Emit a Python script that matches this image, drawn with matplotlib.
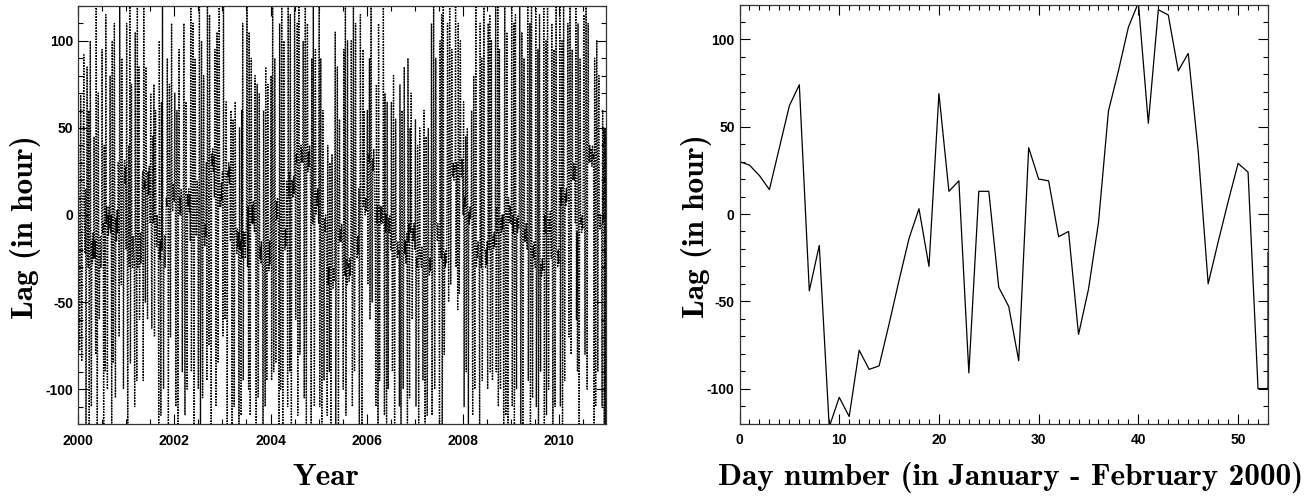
import os
import numpy as np
import matplotlib
matplotlib.use('Agg')
import matplotlib.pyplot as plt
from matplotlib import font_manager as fm
from matplotlib.ticker import MultipleLocator

# daily lag over Jan-Feb 2000 (right panel)
day_number = [0, 1, 2, 3, 4, 5, 6, 7, 8, 9, 10, 11, 12, 13, 14, 15, 16, 17, 18, 19,
              20, 21, 22, 23, 24, 25, 26, 27, 28, 29, 30, 31, 32, 33, 34, 35, 36, 37, 38, 39,
              40, 41, 42, 43, 44, 45, 46, 47, 48, 49, 50, 51, 52, 53, 53]
lag_jan_feb = [30, 28, 22, 14, 38, 62, 74, -44, -18, -122, -105, -116, -78, -89, -87, -63, -38, -14, 3, -30,
               69, 13, 19, -91, 13, 13, -42, -53, -84, 38, 20, 19, -13, -10, -69, -43, -5, 59, 82, 107,
               121, 52, 117, 114, 82, 92, 36, -40, -16, 7, 29, 24, -100, -100, -22]

# lag 2000-2010 (left panel), one value every ~4 days, one row per year
lag_2000 = [30, 38, -18, -78, -38, 69, 13, -84, -13, -5, 52, 92, 7, -22, 15,
            -120, -15, 85, -22, -30, 60, -130, -20, 100, -25, -110, -15, -28, -10, -25,
            45, -25, -15, -80, 120, -20, -125, -10, 70, -30, -60, -22, -12, -30, -18,
            95, -10, -5, -130, 40, 0, -90, 115, -5, 5, -100, 0, -12, 5, -8,
            80, -10, 0, -120, 100, -5, -85, 5, 110, -15, -105, -2, -15, 3, -10,
            30, 25, -70, 120, 35, 20, -40, 90, 30, 15, -100, 20, 32, 18, 28]
lag_2001 = [-20, 110, -25, -120, -15, 40, -30, 125, -85, -20, 75, -18, -30, -12, -25,
            -25, -110, 105, -15, -20, -95, 120, -30, -10, 85, -60, -22, -10, -28, -15,
            20, 25, -95, 120, 15, 20, -50, 85, 25, 10, -60, 25, 12, 28, 18,
            -5, 70, -10, -65, -15, 45, -5, 75, -70, -10, 60, -5, -18, 0, -12,
            -20, -120, 100, -25, -15, -115, 65, -20, 120, -30, -100, -25, -12, -30, -18,
            10, 5, 90, 15, -125, 10, 75, 5, -70, 15, 110, 12, 2, 18, 8]
lag_2002 = [8, 70, 5, -110, 10, 60, 5, -120, 10, 95, 0, 10, 0, 15, 5,
            -90, 8, 15, 110, 5, -115, 10, 65, 0, -100, 12, 5, 15, 2, 12,
            -15, 120, -90, -20, -10, 110, 20, -130, 25, 90, 15, -12, 5, 20, 10,
            -100, -10, 120, -5, -125, -15, 100, -5, -105, -10, 80, -8, -18, -5, -12,
            30, -95, 125, 35, 25, -75, 115, 30, 20, -120, 35, 28, 38, 25, 34,
            10, 95, 15, -110, 5, 105, 20, -85, 10, 120, 5, 12, 5, 18, 8]
lag_2003 = [25, -70, 120, 20, 15, -60, 30, 65, 20, -120, 25, 22, 30, 18, 28,
            -15, 60, -10, -125, -20, 55, -15, -110, -25, 65, -5, -12, -22, -8, -18,
            -10, -120, 50, -20, -15, -115, 60, -25, 110, -95, -10, -18, -10, -25, -12,
            0, 125, -30, 5, -100, 105, 0, -115, 10, 90, -5, 5, -5, 8, -2,
            -10, 80, -20, -120, -25, 75, -30, -105, -35, 70, -25, -18, -28, -15, -25,
            -30, -125, 60, -15, -20, -110, 85, -10, -95, -25, 75, -22, -32, -15, -28]
lag_2004 = [5, 80, -95, 10, 120, 0, -90, 5, 90, 10, -85, 8, -2, 10, 2,
            -15, -120, 110, -20, -100, -10, 120, -15, -125, -20, 100, -12, -20, -8, -18,
            20, 15, -110, 120, 10, 25, -90, 115, 15, -120, 20, 18, 10, 22, 12,
            125, 40, -60, 35, 30, 110, -115, 40, 120, 35, -80, 32, 40, 30, 38,
            30, 100, 35, -105, 40, 120, 30, -120, 35, 110, 25, 36, 28, 40, 32,
            10, -120, 90, 5, -5, 120, 15, -110, 10, 95, 0, 12, 5, 15, 8]
lag_2005 = [-5, 120, -110, 0, 90, -10, -125, -5, 60, 0, -95, -2, -10, 0, -8,
            -35, -115, 40, -40, -30, -90, 30, -35, -120, -40, 35, -32, -42, -30, -38,
            -10, 105, -120, -15, -5, 85, -25, -125, -10, 55, -15, -8, -15, -5, -12,
            -40, -100, 95, -30, -35, 120, -115, -25, -40, 100, -30, -28, -38, -25, -35,
            -20, 100, 5, -110, -25, 120, -15, -90, -20, 110, -10, -18, -25, -12, -22,
            15, -120, 0, 115, 5, -15, -125, 10, 95, 5, 60, 8, 0, 10, 2]
lag_2006 = [5, 60, -40, 35, 30, 90, -60, 30, 120, 25, -50, 32, 25, 38, 28,
            0, -20, -110, 75, -5, 5, -120, 110, 0, -95, 5, 2, -5, 5, -2,
            -5, 120, -10, -115, 70, -10, 0, -125, 65, -5, -100, -2, -10, 0, -8,
            -20, 65, -25, -90, -15, 80, -20, -120, -25, 55, -15, -18, -25, -15, -22,
            -20, -110, 75, -25, -130, -15, 60, -20, -100, -25, 85, -22, -15, -28, -18,
            -10, -120, 90, -15, -5, -105, 50, -10, 70, -5, -60, -8, -15, -5, -12]
lag_2007 = [-20, 55, -110, -25, -30, 40, -30, -120, -20, 50, -25, -22, -30, -18, -28,
            -95, -30, 60, -35, -125, -30, 45, -25, -115, -35, 50, -28, -35, -25, -32,
            -20, 110, -115, -10, -5, 120, -15, -100, -10, 90, -5, -8, -15, -5, -12,
            -30, -120, 100, -20, -25, 115, -130, -30, 120, -25, -80, -22, -30, -20, -28,
            15, 110, 25, -50, 20, 120, 30, -40, 25, 95, 30, 22, 30, 20, 28,
            25, 120, -30, 30, 25, -55, 110, 30, -45, 25, 100, 28, 22, 32, 25]
lag_2008 = [0, 65, -110, 10, 5, 45, -90, -5, 50, 0, -120, 2, -5, 5, -2,
            5, 60, -20, -115, -15, 80, -25, -100, -20, 120, -30, -18, -25, -15, -22,
            -25, -125, 110, -15, -30, 90, -95, -25, -10, 120, -20, -22, -30, -20, -28,
            -15, -100, 110, -5, -20, 115, -90, -15, 100, -10, -95, -12, -20, -10, -18,
            -5, 125, -90, 5, -10, 120, -110, 0, 95, -5, -100, -2, -10, 0, -8,
            0, -125, 10, 120, 5, -115, -5, 105, 0, -120, 10, 2, -5, 5, 0]
lag_2009 = [-5, 120, -110, 0, -10, 110, -125, -10, 115, -5, -100, -2, -10, 0, -8,
            5, 120, -10, -120, -15, 105, -5, -125, -10, 90, -15, -8, -15, -5, -12,
            -20, 120, -95, -25, -5, 110, -120, -20, 125, -25, -105, -18, -25, -15, -22,
            -30, 120, -110, -35, -25, 95, -125, -30, 115, -20, -90, -28, -35, -25, -32,
            -5, 120, -120, 0, -10, 100, -115, 5, 120, -5, -100, -2, -10, 2, -8,
            -25, 110, -30, -120, -20, 95, -25, -110, -30, 120, -20, -22, -30, -20, -28]
lag_2010 = [10, 120, -110, 15, 5, 100, -120, 15, 125, 10, -95, 12, 5, 15, 8,
            20, 110, 25, -70, 30, 120, 25, -80, 30, 95, 20, 22, 30, 20, 28,
            -5, 120, -60, -10, -90, 110, -5, -120, -10, 90, -5, -2, -10, 0, -8,
            35, 115, 40, -80, 30, 120, 35, -100, 40, 110, 30, 32, 40, 30, 38,
            36, 28, 40, 32, 35, -120, 90, 40, -110, 35, 100, 30, -90, 45, 80,
            -2, -8, 0, -5, -5, -110, 60, -5, 50, -125, 50, -120, 50, -125, -25]

years = [2000, 2001, 2002, 2003, 2004, 2005, 2006, 2007, 2008, 2009, 2010]
yearly = [lag_2000, lag_2001, lag_2002, lag_2003, lag_2004, lag_2005,
          lag_2006, lag_2007, lag_2008, lag_2009, lag_2010]

t_all = []
lag_all = []
for yr, vals in zip(years, yearly):
    n = len(vals)
    t_all.extend(yr + np.arange(n) / n)
    lag_all.extend(vals)

cm_path = os.path.join(matplotlib.get_data_path(), 'fonts', 'ttf', 'cmb10.ttf')
label_font = fm.FontProperties(fname=cm_path, size=22.5)

plt.rcParams['font.family'] = ['Liberation Sans', 'DejaVu Sans']
plt.rcParams['font.weight'] = 'bold'
plt.rcParams['font.size'] = 10
plt.rcParams['axes.unicode_minus'] = False

W, H = 1309, 496
fig = plt.figure(figsize=(W / 100, H / 100), dpi=100)
ax1 = fig.add_axes([78 / W, 1 - 424 / H, 528 / W, 418 / H])
ax2 = fig.add_axes([739.5 / W, 1 - 423.5 / H, 528.5 / W, 419 / H])


def style_axis(ax):
    ax.tick_params(which='both', direction='in', top=True, right=True, labelsize=10)
    ax.tick_params(axis='x', pad=7)
    ax.tick_params(axis='y', pad=3.5)
    ax.tick_params(which='major', length=7, width=0.8)
    ax.tick_params(which='minor', length=3.6, width=0.8)
    for s in ax.spines.values():
        s.set_linewidth(0.9)
        s.set_color('#333333')
    for lab in ax.get_xticklabels() + ax.get_yticklabels():
        lab.set_fontweight('bold')


ax1.plot(t_all, lag_all, color='black', lw=1.0, linestyle=(0, (1, 1.0)))
ax1.set_xlim(2000, 2010.97)
ax1.set_ylim(-120, 120)
ax1.xaxis.set_minor_locator(MultipleLocator(0.5))
ax1.yaxis.set_major_locator(MultipleLocator(50))
ax1.yaxis.set_minor_locator(MultipleLocator(10))
ax1.set_xticks([2000, 2002, 2004, 2006, 2008, 2010])
style_axis(ax1)

ax2.plot(day_number, lag_jan_feb, color='black', lw=0.9)
ax2.set_xlim(0, 53)
ax2.set_ylim(-120, 120)
ax2.xaxis.set_major_locator(MultipleLocator(10))
ax2.xaxis.set_minor_locator(MultipleLocator(1))
ax2.yaxis.set_major_locator(MultipleLocator(50))
ax2.yaxis.set_minor_locator(MultipleLocator(10))
style_axis(ax2)

# axis titles placed where the reference has them
fig.text(326 / W, 1 - 485 / H, 'Year', fontproperties=label_font, ha='center', va='baseline')
fig.text(1011 / W, 1 - 485 / H, 'Day number (in January - February 2000)',
         fontproperties=label_font, ha='center', va='baseline')
fig.text(26 / W, 1 - 227 / H, 'Lag (in hour)', fontproperties=label_font,
         rotation=90, ha='center', va='center')
fig.text(697 / W, 1 - 226 / H, 'Lag (in hour)', fontproperties=label_font,
         rotation=90, ha='center', va='center')

fig.savefig('out.png', dpi=100)
